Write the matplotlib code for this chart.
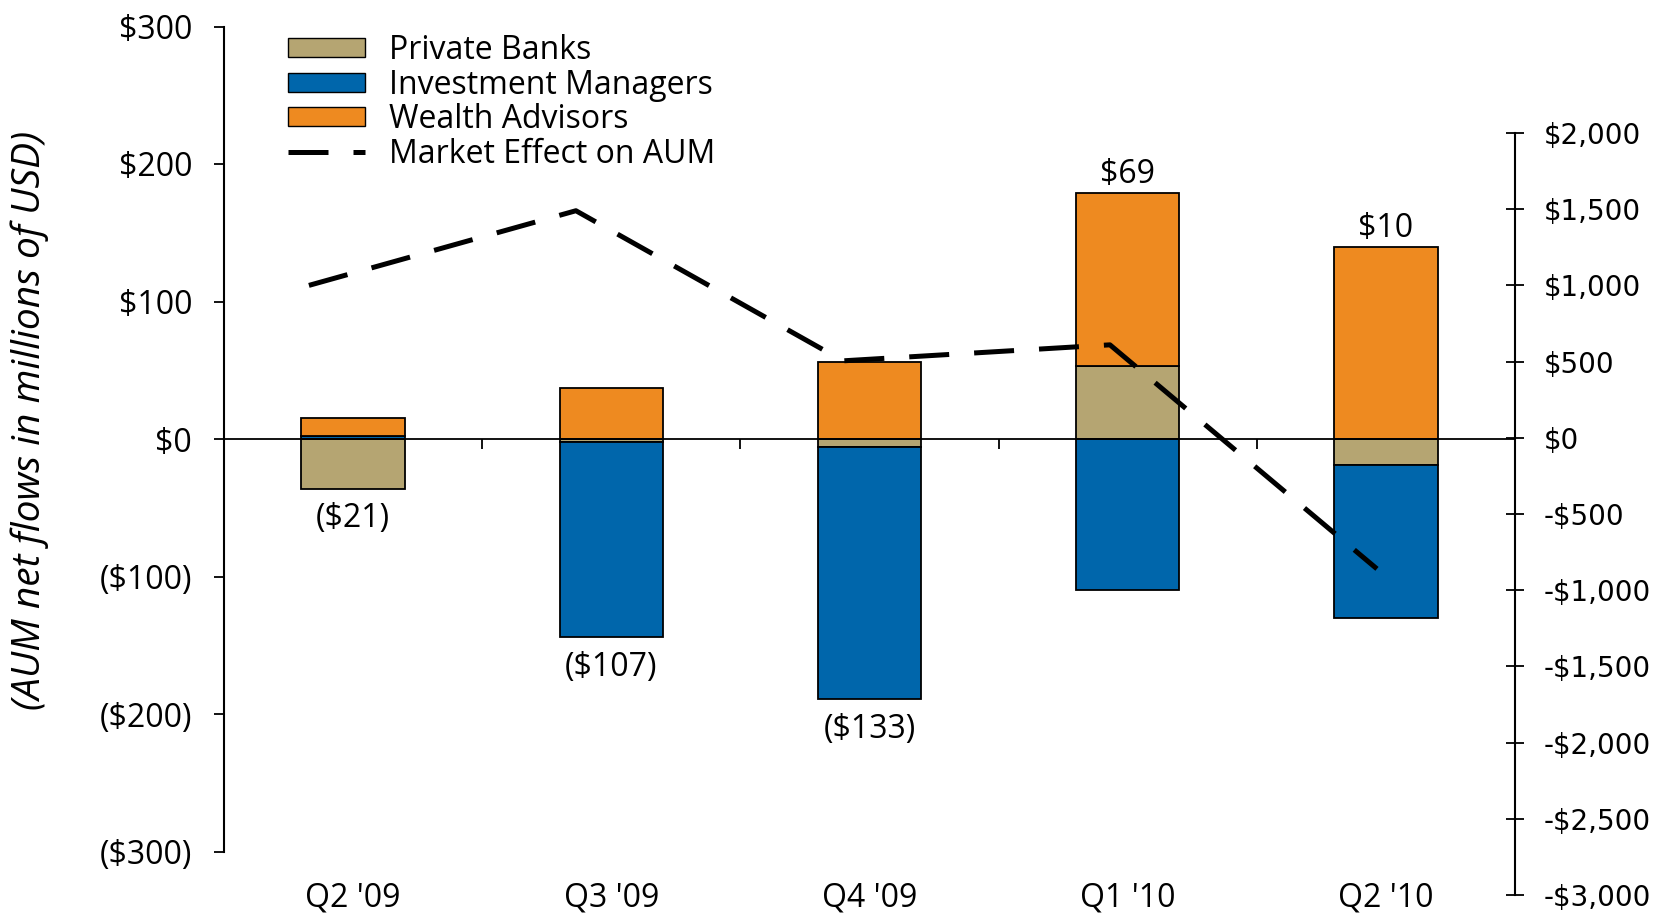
import numpy as np
import matplotlib
matplotlib.use("Agg")
import matplotlib.pyplot as plt
from matplotlib.patches import Patch
from matplotlib.lines import Line2D
from matplotlib.ticker import FuncFormatter

categories = ["Q2 '09", "Q3 '09", "Q4 '09", "Q1 '10", "Q2 '10"]
private_banks = [-36, -2, -6, 53, -19]
investment_managers = [2, -142, -183, -110, -111]
wealth_advisors = [13, 37, 56, 126, 140]
market_effect = [1000, 1490, 505, 610, -860]

series = [("Private Banks", private_banks, "#B5A572"),
          ("Investment Managers", investment_managers, "#0066AB"),
          ("Wealth Advisors", wealth_advisors, "#EE8A20")]

FONT = "Open Sans"
FS = 23
plt.rcParams['font.family'] = [FONT, 'DejaVu Sans']

fig = plt.figure(figsize=(16.59, 9.14), dpi=100)
W, H = 1659, 914

# main axes (left scale)
ax = fig.add_axes([224 / W, 1 - 851.5 / H, (1515 - 224) / W, (851.5 - 26.5) / H])
x = np.arange(len(categories))
pos_base = np.zeros(len(categories))
neg_base = np.zeros(len(categories))
for name, vals, col in series:
    v = np.array(vals, dtype=float)
    bottom = np.where(v >= 0, pos_base, neg_base)
    ax.bar(x, v, 0.4, bottom=bottom, color=col, edgecolor="black", linewidth=1.3, zorder=2)
    pos_base = pos_base + np.where(v >= 0, v, 0)
    neg_base = neg_base + np.where(v < 0, v, 0)

totals = np.sum([private_banks, investment_managers, wealth_advisors], axis=0)
for i, t in enumerate(totals):
    lab = f"${t:.0f}" if t >= 0 else f"(${-t:.0f})"
    if t >= 0:
        ax.annotate(lab, (x[i], pos_base[i]), xytext=(0, 1), textcoords="offset points",
                    ha="center", va="bottom", fontsize=FS)
    else:
        ax.annotate(lab, (x[i], neg_base[i]), xytext=(0, -10), textcoords="offset points",
                    ha="center", va="top", fontsize=FS)

ax.set_xlim(-0.5, len(categories) - 0.5)
ax.set_ylim(-300, 300)
ax.set_yticks([300, 200, 100, 0, -100, -200, -300])
ax.yaxis.set_major_formatter(FuncFormatter(lambda v, p: f"${v:.0f}" if v >= 0 else f"(${-v:.0f})"))
ax.tick_params(axis='y', direction='out', length=7, width=1.3, labelsize=FS, pad=16)
ax.spines['top'].set_visible(False)
ax.spines['right'].set_visible(False)
ax.spines['left'].set_linewidth(1.5)
ax.spines['bottom'].set_position(('data', 0))
ax.spines['bottom'].set_linewidth(1.3)
ax.spines['bottom'].set_zorder(3)
ax.set_xticks(x[:-1] + 0.5)
ax.set_xticklabels([])
ax.tick_params(axis='x', direction='out', length=7, width=1.3)
for i, c in enumerate(categories):
    ax.text(x[i], -0.056, c, transform=ax.get_xaxis_transform(), ha="center", va="center", fontsize=FS)

fig.text(30 / W, 1 - 420 / H, "(AUM net flows in millions of USD)", rotation=90,
         ha="center", va="center", fontsize=28, style="italic")

# right axes (market effect) - line on its own horizontal positions
ax2 = fig.add_axes([224 / W, 1 - 895 / H, (1515 - 224) / W, (895 - 133) / H])
ax2.patch.set_alpha(0)
ax2.plot(x, market_effect, color="black", linewidth=3.6, dashes=(8, 5),
         dash_capstyle='butt', zorder=5)
ax2.set_xlim(-0.318, 4.517)
ax2.set_ylim(-3000, 2000)
ax2.set_yticks(np.arange(-3000, 2001, 500))
ax2.yaxis.set_major_formatter(FuncFormatter(lambda v, p: f"${v:,.0f}" if v >= 0 else f"-${-v:,.0f}"))
ax2.yaxis.tick_right()
ax2.tick_params(axis='y', direction='inout', length=13, width=1.3, labelsize=20, pad=14)
for lab in ax2.get_yticklabels():
    lab.set_family("DejaVu Sans")
ax2.set_xticks([])
for s in ['top', 'left', 'bottom']:
    ax2.spines[s].set_visible(False)
ax2.spines['right'].set_linewidth(1.5)

handles = [Patch(facecolor=c, edgecolor="black", linewidth=1.0, label=n) for n, _, c in series]
handles.append(Line2D([0], [0], color="black", linewidth=3.6, dashes=(8, 5), label="Market Effect on AUM"))
fig.legend(handles=handles, loc="upper left", bbox_to_anchor=(288 / W, 1 - 34 / H), frameon=False,
           fontsize=FS, handlelength=2.4, handleheight=0.53, labelspacing=0.05, handletextpad=0.75,
           borderpad=0, borderaxespad=0)

fig.savefig("out.png", dpi=100)
